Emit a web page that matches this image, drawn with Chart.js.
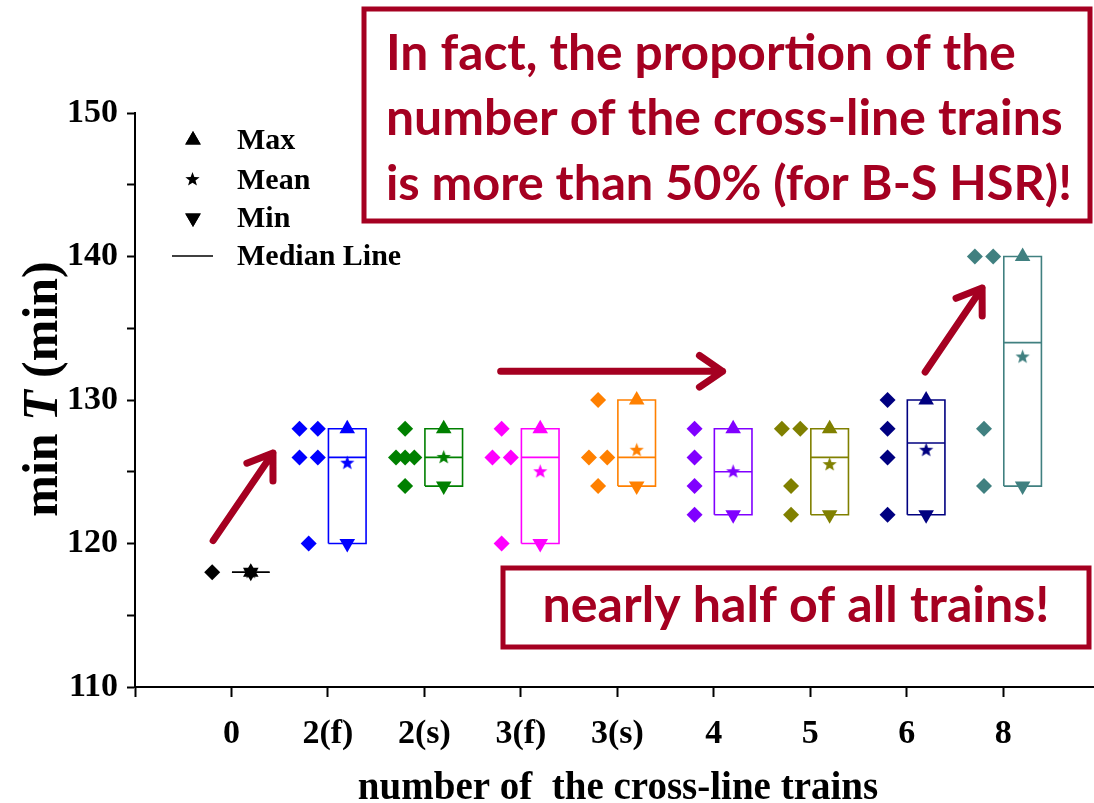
<!DOCTYPE html>
<html>
<head>
<meta charset="utf-8">
<script src="https://cdn.jsdelivr.net/npm/chart.js@4.4.1/dist/chart.umd.min.js"></script>
<style>
html, body { margin: 0; padding: 0; background: #fff; }
#wrap { position: relative; width: 1094px; height: 803px; }
</style>
</head>
<body>
<div id="wrap"><canvas id="chart" width="1094" height="803"></canvas></div>
<script>
// categories on the x axis
var categories = ['0', '2(f)', '2(s)', '3(f)', '3(s)', '4', '5', '6', '8'];

// min T (min) of every train, per number of cross-line trains
var trains0  = [118];
var trains2f = [128, 128, 126, 126, 120];
var trains2s = [128, 126, 126, 126, 124];
var trains3f = [128, 126, 126, 120];
var trains3s = [130, 126, 126, 124];
var trains4  = [128, 126, 124, 122];
var trains5  = [128, 128, 124, 122];
var trains6  = [130, 128, 126, 122];
var trains8  = [140, 140, 128, 124];

var groups = [trains0, trains2f, trains2s, trains3f, trains3s, trains4, trains5, trains6, trains8];

var yTicks = [110, 120, 130, 140, 150];

var colors = ['#000000', '#0000ff', '#008000', '#ff00ff', '#ff8000', '#8000ff', '#808000', '#000080', '#408080'];

var red = '#a50021';
var serif = '"Liberation Serif", "Times New Roman", serif';

function median(a) {
	var s = a.slice().sort(function(p, q) { return p - q; });
	var m = Math.floor(s.length / 2);
	return s.length % 2 ? s[m] : (s[m - 1] + s[m]) / 2;
}
function mean(a) {
	return a.reduce(function(p, q) { return p + q; }, 0) / a.length;
}

function makeStar(color, r) {
	var c = document.createElement('canvas');
	var s = Math.ceil(r * 2 + 2);
	c.width = s;
	c.height = s;
	var g = c.getContext('2d');
	g.fillStyle = color;
	g.beginPath();
	for (var k = 0; k < 10; k++) {
		var rr = k % 2 ? r * 0.42 : r;
		var a = -Math.PI / 2 + k * Math.PI / 5;
		g.lineTo(s / 2 + rr * Math.cos(a), s / 2 + rr * Math.sin(a));
	}
	g.closePath();
	g.fill();
	return c;
}

var boxSets = [], dotSets = [], markSets = [];
groups.forEach(function(vals, i) {
	var col = colors[i];
	var lo = Math.min.apply(null, vals), hi = Math.max.apply(null, vals);
	var x0 = i + 0.005, x1 = i + 0.395, xc = i + 0.2;
	boxSets.push({
		data: [{x: x0, y: lo}, {x: x0, y: hi}, {x: x1, y: hi}, {x: x1, y: lo}, {x: x0, y: lo}],
		showLine: true, borderColor: col, borderWidth: 1.6, pointRadius: 0, fill: false
	});
	boxSets.push({
		data: [{x: x0, y: median(vals)}, {x: x1, y: median(vals)}],
		showLine: true, borderColor: col, borderWidth: 1.6, pointRadius: 0, fill: false
	});
	// spread equal values side by side, left of the box
	var seen = {}, count = {};
	vals.forEach(function(v) { count[v] = (count[v] || 0) + 1; });
	var pts = vals.map(function(v) {
		var n = count[v], k = seen[v] || 0;
		seen[v] = k + 1;
		var sp = n > 2 ? 0.095 : 0.19;
		return {x: i - 0.2 + (k - (n - 1) / 2) * sp, y: v};
	});
	dotSets.push({
		data: pts, pointStyle: 'rectRot', pointRadius: 8,
		backgroundColor: col, borderColor: col, borderWidth: 0
	});
	markSets.push({
		data: [{x: xc, y: hi}], pointStyle: 'triangle', pointRadius: 9,
		backgroundColor: col, borderColor: col, borderWidth: 0
	});
	markSets.push({
		data: [{x: xc, y: lo}], pointStyle: 'triangle', rotation: 180, pointRadius: 9,
		backgroundColor: col, borderColor: col, borderWidth: 0
	});
	markSets.push({
		data: [{x: xc, y: mean(vals)}], pointStyle: makeStar(col, 7.5), pointRadius: 8
	});
});

// annotation arrows, in data units
var arrows = [
	[-0.19, 120.2, 0.43, 126.3],
	[2.79, 132.0, 5.09, 132.0],
	[7.19, 131.95, 7.78, 137.8]
];

function fitFont(ctx, text, width, family) {
	ctx.font = 'bold 40px ' + family;
	return 40 * width / ctx.measureText(text).width;
}

var decor = {
	id: 'decor',
	afterDraw: function(chart) {
		var ctx = chart.ctx, xs = chart.scales.x, ys = chart.scales.y, a = chart.chartArea;
		ctx.save();

		// y title with italic T
		ctx.save();
		ctx.translate(57, 389);
		ctx.rotate(-Math.PI / 2);
		ctx.fillStyle = '#000';
		ctx.textBaseline = 'alphabetic';
		var parts = [['bold 50px ' + serif, 'min '], ['italic bold 50px ' + serif, 'T'], ['bold 50px ' + serif, ' (min)']];
		var tot = 0;
		parts.forEach(function(p) { ctx.font = p[0]; tot += ctx.measureText(p[1]).width; });
		var px = -tot / 2;
		parts.forEach(function(p) { ctx.font = p[0]; ctx.textAlign = 'left'; ctx.fillText(p[1], px, 0); px += ctx.measureText(p[1]).width; });
		ctx.restore();

		// x title
		ctx.fillStyle = '#000';
		ctx.font = 'bold 39px ' + serif;
		ctx.textAlign = 'center';
		ctx.textBaseline = 'alphabetic';
		ctx.fillText('number of  the cross-line trains', 618, 799);

		// legend
		var lx = a.left + 58, tx = a.left + 102;
		var rows = [140, 180, 218, 256];
		Chart.helpers.drawPoint(ctx, {pointStyle: 'triangle', radius: 9, borderWidth: 0}, lx, rows[0]);
		ctx.fill();
		ctx.drawImage(makeStar('#000', 7.5), lx - 9, rows[1] - 9);
		Chart.helpers.drawPoint(ctx, {pointStyle: 'triangle', rotation: 180, radius: 9, borderWidth: 0}, lx, rows[2]);
		ctx.fill();
		ctx.strokeStyle = '#000';
		ctx.lineWidth = 1.6;
		ctx.beginPath();
		ctx.moveTo(lx - 21, rows[3]);
		ctx.lineTo(lx + 20, rows[3]);
		ctx.stroke();
		ctx.font = 'bold 30px ' + serif;
		ctx.textAlign = 'left';
		ctx.textBaseline = 'middle';
		['Max', 'Mean', 'Min', 'Median Line'].forEach(function(t, k) { ctx.fillText(t, tx, rows[k] + 1); });

		// arrows
		ctx.strokeStyle = red;
		ctx.lineWidth = 7;
		ctx.lineCap = 'round';
		ctx.lineJoin = 'round';
		arrows.forEach(function(r) {
			var x1 = xs.getPixelForValue(r[0]), y1 = ys.getPixelForValue(r[1]);
			var x2 = xs.getPixelForValue(r[2]), y2 = ys.getPixelForValue(r[3]);
			var ang = Math.atan2(y2 - y1, x2 - x1), h = 28;
			ctx.beginPath();
			ctx.moveTo(x1, y1);
			ctx.lineTo(x2, y2);
			ctx.moveTo(x2 - h * Math.cos(ang - 0.6), y2 - h * Math.sin(ang - 0.6));
			ctx.lineTo(x2, y2);
			ctx.lineTo(x2 - h * Math.cos(ang + 0.6), y2 - h * Math.sin(ang + 0.6));
			ctx.stroke();
		});

		// text boxes
		var sans = 'Lato, "Open Sans", sans-serif';
		ctx.lineWidth = 5;
		ctx.lineCap = 'butt';
		ctx.lineJoin = 'miter';
		ctx.fillStyle = '#fff';
		ctx.fillRect(364, 9, 726, 212);
		ctx.strokeRect(364, 9, 726, 212);
		ctx.fillRect(503, 568, 586, 79);
		ctx.strokeRect(503, 568, 586, 79);
		ctx.fillStyle = red;
		ctx.textAlign = 'left';
		ctx.textBaseline = 'alphabetic';
		[['In fact, the proportion of the', 630, 70],
		 ['number of the cross-line trains', 677, 135],
		 ['is more than 50% (for B-S HSR)!', 686, 200]].forEach(function(l) {
			ctx.font = 'bold ' + fitFont(ctx, l[0], l[1], sans) + 'px ' + sans;
			ctx.fillText(l[0], 386, l[2]);
		});
		ctx.font = 'bold ' + fitFont(ctx, 'nearly half of all trains!', 507, sans) + 'px ' + sans;
		ctx.textAlign = 'center';
		ctx.fillText('nearly half of all trains!', 796, 622);

		ctx.restore();
	}
};

new Chart(document.getElementById('chart'), {
	type: 'scatter',
	data: { datasets: boxSets.concat(dotSets, markSets) },
	options: {
		responsive: false,
		animation: false,
		events: [],
		layout: { autoPadding: false, padding: { top: 113, left: 0, right: 0, bottom: 0 } },
		plugins: { legend: { display: false }, tooltip: { enabled: false } },
		scales: {
			x: {
				type: 'linear', min: -1, max: 8.94,
				afterBuildTicks: function(s) {
					s.ticks = [-1].concat(categories.map(function(c, i) { return i; })).map(function(v) { return {value: v}; });
				},
				afterFit: function(s) { s.height = 116; s.paddingLeft = 0; s.paddingRight = 0; },
				border: { color: '#000', width: 2 },
				grid: { drawOnChartArea: false, drawTicks: true, tickLength: 10, tickWidth: 2, tickColor: '#000' },
				ticks: {
					autoSkip: false, maxRotation: 0, padding: 17, color: '#000',
					font: { family: serif, size: 34, weight: 'bold' },
					callback: function(v) { return v >= 0 ? categories[v] : ''; }
				}
			},
			y: {
				type: 'linear', min: yTicks[0], max: yTicks[yTicks.length - 1],
				afterFit: function(s) { s.width = 135; },
				border: { color: '#000', width: 2 },
				grid: { drawOnChartArea: false, drawTicks: true, tickLength: 8, tickWidth: 2, tickColor: '#000' },
				ticks: {
					stepSize: 5, padding: 9, color: '#000',
					font: { family: serif, size: 34, weight: 'bold' },
					callback: function(v) { return yTicks.indexOf(v) >= 0 ? v : ''; }
				}
			}
		}
	},
	plugins: [decor]
});
</script>
</body>
</html>
